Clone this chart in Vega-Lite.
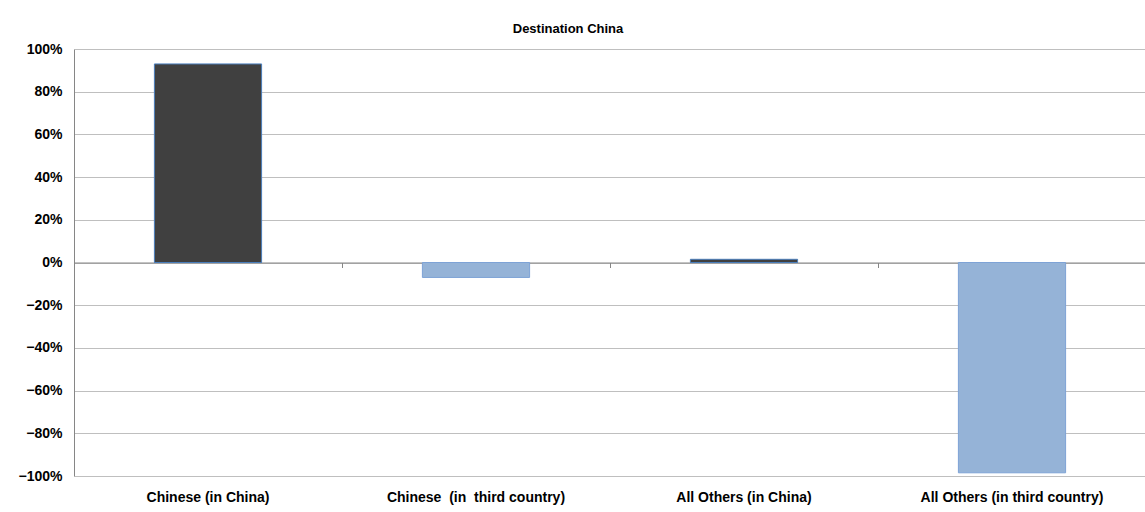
{
  "$schema": "https://vega.github.io/schema/vega-lite/v6.json",
  "width": 1072,
  "height": 427,
  "autosize": {"type": "none"},
  "padding": {"left": 74, "top": 49, "right": 0, "bottom": 36},
  "background": "#ffffff",
  "title": {
    "text": "Destination China",
    "font": "Liberation Sans",
    "fontSize": 13,
    "fontWeight": "bold",
    "color": "#000000",
    "anchor": "middle",
    "dx": -42,
    "offset": -4,
    "baseline": "alphabetic"
  },
  "data": {
    "values": [
      {"group": "Chinese (in China)", "share": 0.93},
      {"group": "Chinese \u00a0(in \u00a0third country)", "share": -0.07},
      {"group": "All Others (in China)", "share": 0.015},
      {"group": "All Others (in third country)", "share": -0.985}
    ]
  },
  "config": {
    "view": {"stroke": null},
    "axis": {
      "labelFont": "Liberation Sans",
      "labelFontSize": 14,
      "labelFontWeight": "bold",
      "labelColor": "#000000",
      "labelLimit": 0,
      "title": null
    }
  },
  "layer": [
    {
      "mark": {"type": "bar", "width": {"band": 0.4}, "strokeWidth": 1},
      "encoding": {
        "x": {
          "field": "group",
          "type": "nominal",
          "sort": null,
          "scale": {"paddingInner": 0, "paddingOuter": 0},
          "axis": {
            "orient": "bottom",
            "labelAngle": 0,
            "labelPadding": 14,
            "labelLimit": 0,
            "domain": false,
            "ticks": false,
            "grid": false
          }
        },
        "y": {
          "field": "share",
          "type": "quantitative",
          "scale": {"domain": [-1, 1], "nice": false, "zero": false},
          "axis": {
            "values": [-1, -0.8, -0.6, -0.4, -0.2, 0, 0.2, 0.4, 0.6, 0.8, 1],
            "format": ".0%",
            "grid": true,
            "gridColor": "#bfbfbf",
            "gridWidth": 1,
            "domainColor": "#868686",
            "ticks": false,
            "labelPadding": 12
          }
        },
        "fill": {"condition": {"test": "datum.share >= 0", "value": "#404040"}, "value": "#95b3d7"},
        "stroke": {"condition": {"test": "datum.share >= 0", "value": "#4a7ebb"}, "value": "#7ea3d6"}
      }
    },
    {
      "mark": {"type": "bar", "width": {"band": 0.4}, "opacity": 0},
      "encoding": {
        "x": {
          "field": "group",
          "type": "nominal",
          "sort": null,
          "axis": {
            "orient": "bottom",
            "offset": -213.5,
            "labels": false,
            "domain": true,
            "domainColor": "#868686",
            "ticks": true,
            "tickColor": "#868686",
            "tickSize": 5,
            "bandPosition": 0,
            "grid": false
          }
        },
        "y": {"field": "share", "type": "quantitative"}
      }
    }
  ],
  "resolve": {"axis": {"x": "independent"}}
}
